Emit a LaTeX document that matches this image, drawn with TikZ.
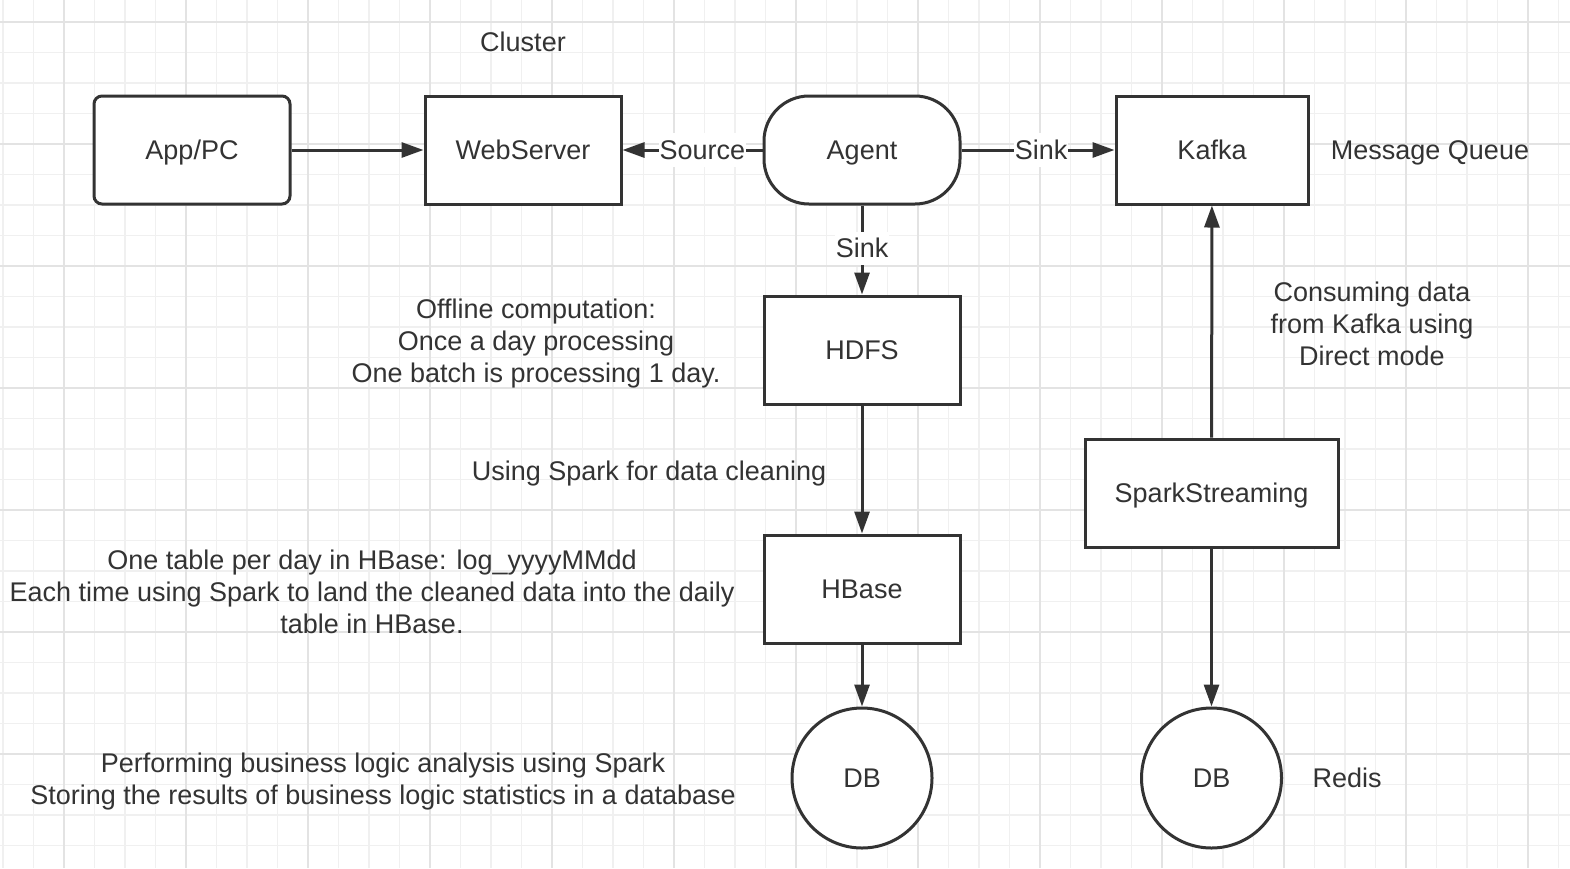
\documentclass[tikz,border=0pt]{standalone}
\usepackage{fontspec}
\setmainfont{Liberation Sans}
\usetikzlibrary{arrows.meta}
\definecolor{ink}{HTML}{333333}
\definecolor{gridminor}{HTML}{F0F0F0}
\definecolor{gridmajor}{HTML}{E3E3E3}
\begin{document}
\begin{tikzpicture}[x=1pt,y=-1pt,
  every node/.style={font=\fontsize{27}{32}\selectfont, text=ink},
  box/.style={draw=ink, line width=3pt, fill=white, minimum width=196pt, minimum height=108pt, inner sep=0pt, text height=25.3pt, text depth=6pt},
  dbnode/.style={draw=ink, line width=3pt, fill=white, circle, minimum size=140pt, inner sep=0pt, text height=25.3pt, text depth=6pt},
  note/.style={align=center, inner sep=0pt},
  elabel/.style={fill=white, inner sep=1pt, text height=25.3pt, text depth=6pt},
  conn/.style={draw=ink, line width=3pt, -{Triangle[length=22pt,width=15pt]}}
]
\useasboundingbox (0,0) rectangle (1570,868);
\fill[white] (0,0) rectangle (1570,868);
\begin{scope}
\clip (0,0) rectangle (1570,868);
\foreach \i in {0,...,51} \draw[gridminor, line width=1.5pt] ({3+30.5*\i},0) -- ({3+30.5*\i},868);
\foreach \i in {1,...,28} \draw[gridminor, line width=1.5pt] (0,{-8.5+30.5*\i}) -- (1570,{-8.5+30.5*\i});
\foreach \i in {0,...,12} \draw[gridmajor, line width=2pt] ({64+122*\i},0) -- ({64+122*\i},868);
\foreach \i in {0,...,6} \draw[gridmajor, line width=2pt] (0,{22+122*\i}) -- (1570,{22+122*\i});
\end{scope}

% nodes
\node[box, rounded corners=8pt] (app) at (192,150) {App/PC};
\node[box] (web) at (523,150) {WebServer};
\node[box, rounded corners=45pt] (agent) at (862,150) {Agent};
\node[box, minimum width=192pt] (kafka) at (1212,150) {Kafka};
\node[box] (hdfs) at (862,350) {HDFS};
\node[box] (hbase) at (862,589) {HBase};
\node[dbnode] (db1) at (862,778) {DB};
\node[box, minimum width=253pt] (ss) at (1211.5,493) {SparkStreaming};
\node[dbnode] (db2) at (1211.5,778) {DB};

% texts
\node[note] (cluster) at (523,42) {Cluster};
\node[note] (mq) at (1430,153) {Message Queue};
\node[note] (offline) at (536,344) {Offline computation:\\Once a day processing\\One batch is processing 1 day.};
\node[note] (clean) at (649,474) {Using Spark for data cleaning};
\node[note] (hbnote) at (372,592) {One table per day in HBase: log\_yyyyMMdd\\Each time using Spark to land the cleaned data into the daily\\table in HBase.};
\node[note] (perf) at (383,782) {Performing business logic analysis using Spark\\Storing the results of business logic statistics in a database};
\node[note] (consume) at (1372,324) {Consuming data\\from Kafka using\\Direct mode};
\node[note] (redis) at (1347,778) {Redis};

% connectors
\draw[conn] (app) -- (web);
\draw[conn] (agent) -- node[elabel, pos=0.43] {Source} (web);
\draw[conn] (agent) -- node[elabel, pos=0.52] {Sink} (kafka);
\draw[conn] (agent) -- node[elabel, pos=0.48] {Sink} (hdfs);
\draw[conn] (hdfs) -- (hbase);
\draw[conn] (hbase) -- (db1);
\draw[conn] (ss) -- (kafka);
\draw[conn] (ss) -- (db2);
\end{tikzpicture}
\end{document}
